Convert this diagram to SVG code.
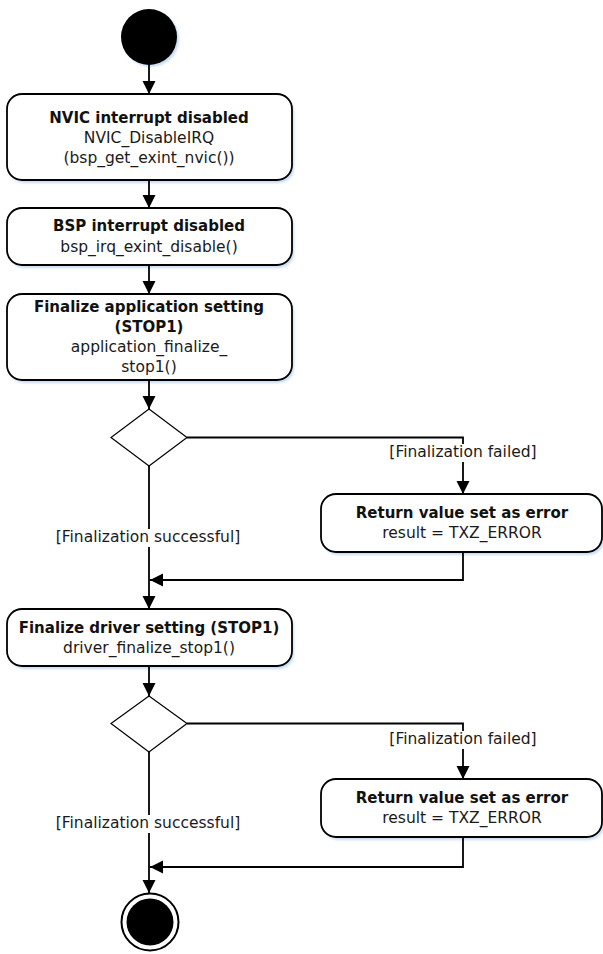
<svg xmlns="http://www.w3.org/2000/svg" width="603" height="954" viewBox="0 0 603 954">
<style>
.box{fill:#fff;stroke:#000;stroke-width:1.8}
.shadow{fill:#c9dcf2;filter:url(#blur)}
.t{font-family:"DejaVu Sans","Verdana",sans-serif;font-size:15.5px;fill:#1a1a1a;text-anchor:middle}
.b{font-weight:bold;font-size:15px;fill:#111}
.edge{fill:none;stroke:#000;stroke-width:1.8}
.lbl{fill:#fff}
</style>
<defs>
<filter id="blur" x="-10%" y="-10%" width="120%" height="130%"><feGaussianBlur stdDeviation="1"/></filter>
<marker id="arr" markerUnits="userSpaceOnUse" markerWidth="14" markerHeight="14" viewBox="0 0 14 14" refX="13" refY="7" orient="auto">
<path d="M0,0.5 L13,7 L0,13.5 Z" fill="#000"/>
</marker>
</defs>

<g id="start">
<circle cx="151" cy="39" r="28" class="shadow"/>
<circle cx="149" cy="37" r="28" fill="#000"/>
</g>

<g id="n1">
<rect x="9" y="97" width="285" height="86" rx="15" class="shadow"/>
<rect x="7" y="94" width="285" height="86" rx="15" class="box"/>
<text class="t b" x="149" y="122.5">NVIC interrupt disabled</text>
<text class="t" x="149" y="142.5">NVIC_DisableIRQ</text>
<text class="t" x="149" y="162.5">(bsp_get_exint_nvic())</text>
</g>

<g id="n2">
<rect x="9" y="211" width="285" height="57" rx="15" class="shadow"/>
<rect x="7" y="208" width="285" height="57" rx="15" class="box"/>
<text class="t b" x="149" y="231">BSP interrupt disabled</text>
<text class="t" x="149" y="252">bsp_irq_exint_disable()</text>
</g>

<g id="n3">
<rect x="9" y="297" width="285" height="86" rx="15" class="shadow"/>
<rect x="7" y="294" width="285" height="86" rx="15" class="box"/>
<text class="t b" x="149" y="312">Finalize application setting</text>
<text class="t b" x="149" y="332">(STOP1)</text>
<text class="t" x="149" y="352">application_finalize_</text>
<text class="t" x="149" y="372">stop1()</text>
</g>

<g id="d1">
<polygon points="149,409 187,437.5 149,466 111,437.5" fill="#fff" stroke="#000" stroke-width="1.2"/>
</g>

<g id="e1">
<rect x="323" y="497" width="281" height="58" rx="15" class="shadow"/>
<rect x="321" y="494" width="281" height="58" rx="15" class="box"/>
<text class="t b" x="462" y="518">Return value set as error</text>
<text class="t" x="462" y="538">result = TXZ_ERROR</text>
</g>

<g id="n4">
<rect x="9" y="612" width="285" height="57" rx="15" class="shadow"/>
<rect x="7" y="609" width="285" height="57" rx="15" class="box"/>
<text class="t b" x="149" y="633">Finalize driver setting (STOP1)</text>
<text class="t" x="149" y="653">driver_finalize_stop1()</text>
</g>

<g id="d2">
<polygon points="149,696 187,723.5 149,752 111,723.5" fill="#fff" stroke="#000" stroke-width="1.2"/>
</g>

<g id="e2">
<rect x="323" y="782" width="281" height="58" rx="15" class="shadow"/>
<rect x="321" y="779" width="281" height="58" rx="15" class="box"/>
<text class="t b" x="462" y="803">Return value set as error</text>
<text class="t" x="462" y="823">result = TXZ_ERROR</text>
</g>

<g id="end">
<circle cx="150" cy="922" r="28.5" fill="#fff" stroke="#000" stroke-width="2"/>
<circle cx="150" cy="922" r="23.5" fill="#000"/>
</g>

<g id="connectors">
<path class="edge" d="M149,65 V94" marker-end="url(#arr)"/>
<path class="edge" d="M149,180 V208" marker-end="url(#arr)"/>
<path class="edge" d="M149,265 V294" marker-end="url(#arr)"/>
<path class="edge" d="M149,380 V409" marker-end="url(#arr)"/>
<path class="edge" d="M187,437.5 H463 V494" marker-end="url(#arr)"/>
<path class="edge" d="M149,466 V609" marker-end="url(#arr)"/>
<path class="edge" d="M463,552 V580 H150" marker-end="url(#arr)"/>
<path class="edge" d="M149,666 V696" marker-end="url(#arr)"/>
<path class="edge" d="M187,723.5 H463 V779" marker-end="url(#arr)"/>
<path class="edge" d="M149,752 V893" marker-end="url(#arr)"/>
<path class="edge" d="M463,837 V867 H150" marker-end="url(#arr)"/>
<rect class="lbl" x="456" y="444" width="14" height="18"/>
<text class="t" x="463" y="457">[Finalization failed]</text>
<rect class="lbl" x="142" y="529" width="14" height="18"/>
<text class="t" x="148" y="542">[Finalization successful]</text>
<rect class="lbl" x="456" y="731" width="14" height="18"/>
<text class="t" x="463" y="744">[Finalization failed]</text>
<rect class="lbl" x="142" y="815" width="14" height="18"/>
<text class="t" x="148" y="828">[Finalization successful]</text>
</g>
</svg>
